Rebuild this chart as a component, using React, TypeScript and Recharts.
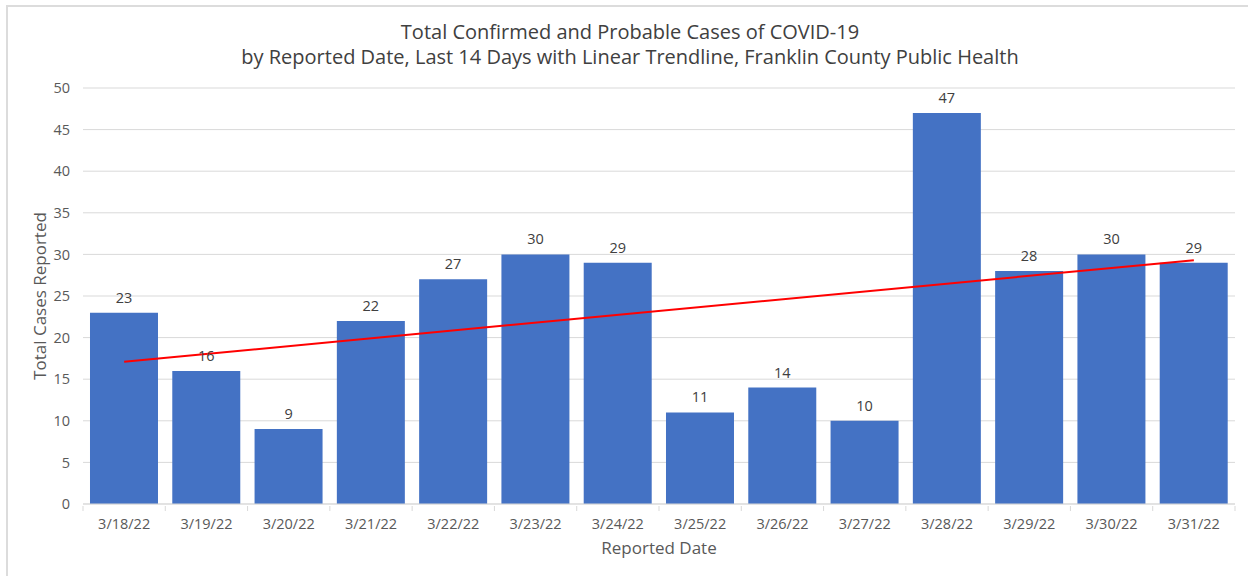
import React from 'react';
import { BarChart, Bar, XAxis, YAxis, CartesianGrid, LabelList, ReferenceLine } from 'recharts';

const dates = ['3/18/22', '3/19/22', '3/20/22', '3/21/22', '3/22/22', '3/23/22', '3/24/22', '3/25/22', '3/26/22', '3/27/22', '3/28/22', '3/29/22', '3/30/22', '3/31/22'];
const cases = [23, 16, 9, 22, 27, 30, 29, 11, 14, 10, 47, 28, 30, 29];
const yTicks = [0, 5, 10, 15, 20, 25, 30, 35, 40, 45, 50];
const trendStart = 17.1;
const trendEnd = 29.3;

const titleLines = [
  'Total Confirmed and Probable Cases of COVID-19',
  'by Reported Date, Last 14 Days with Linear Trendline, Franklin County Public Health',
];

const data = dates.map((d, i) => ({ date: d, cases: cases[i] }));

const FONT = '"Open Sans", sans-serif';
const TEXT = '#595959';
const W = 1248;
const H = 576;
const LEFT = 83;
const RIGHT = 13;
const STEP = (W - LEFT - RIGHT) / dates.length;

const XTick = (props: any) => {
  const { x, y, payload, index } = props;
  const last = index === dates.length - 1;
  return (
    <g>
      <line x1={x - STEP / 2} x2={x - STEP / 2} y1={y - 6} y2={y - 1} stroke="#d9d9d9" />
      {last && <line x1={x + STEP / 2} x2={x + STEP / 2} y1={y - 6} y2={y - 1} stroke="#d9d9d9" />}
      <text x={x} y={y + 17} textAnchor="middle" fill={TEXT} fontSize={14.5} fontFamily={FONT}>
        {payload.value}
      </text>
    </g>
  );
};

export default function App() {
  return (
    <div style={{ position: 'fixed', left: 0, top: 0, width: W, height: H, overflow: 'hidden', background: '#fff', fontFamily: FONT }}>
      <div style={{ position: 'absolute', left: 0, top: 19, width: 1260, textAlign: 'center', color: '#404040', fontSize: 20, lineHeight: '25px' }}>
        {titleLines.map((t) => (
          <div key={t}>{t}</div>
        ))}
      </div>
      <div style={{ position: 'absolute', left: 659, top: 536, transform: 'translateX(-50%)', color: TEXT, fontSize: 17, whiteSpace: 'nowrap' }}>
        Reported Date
      </div>
      <div style={{ position: 'absolute', left: 39, top: 296, transform: 'translate(-50%, -50%) rotate(-90deg)', color: TEXT, fontSize: 17, whiteSpace: 'nowrap' }}>
        Total Cases Reported
      </div>
      <div style={{ position: 'absolute', left: 0, top: 0 }}>
        <BarChart width={W} height={H} data={data} margin={{ top: 88, right: RIGHT, left: 0, bottom: 0 }} barCategoryGap="8.5%">
          <CartesianGrid vertical={false} stroke="#d9d9d9" />
          <XAxis
            dataKey="date"
            height={72}
            tickLine={false}
            axisLine={{ stroke: '#d9d9d9' }}
            tick={<XTick />}
            interval={0}
          />
          <YAxis
            width={LEFT}
            domain={[0, 50]}
            ticks={yTicks}
            tickLine={false}
            axisLine={false}
            tickSize={0}
            tickMargin={13}
            tick={{ fill: TEXT, fontSize: 14.5, fontFamily: FONT }}
          />
          <Bar dataKey="cases" fill="#4472C4" isAnimationActive={false}>
            <LabelList dataKey="cases" position="top" offset={10} fill="#404040" fontSize={14.5} fontFamily={FONT} />
          </Bar>
          <ReferenceLine
            segment={[
              { x: dates[0], y: trendStart },
              { x: dates[dates.length - 1], y: trendEnd },
            ]}
            stroke="#FF0000"
            strokeWidth={2}
            ifOverflow="visible"
          />
        </BarChart>
      </div>
      <div style={{ position: 'absolute', left: 6, top: 5, width: 1260, height: 600, border: '2px solid #dcdcdc', boxSizing: 'border-box', pointerEvents: 'none' }} />
    </div>
  );
}
